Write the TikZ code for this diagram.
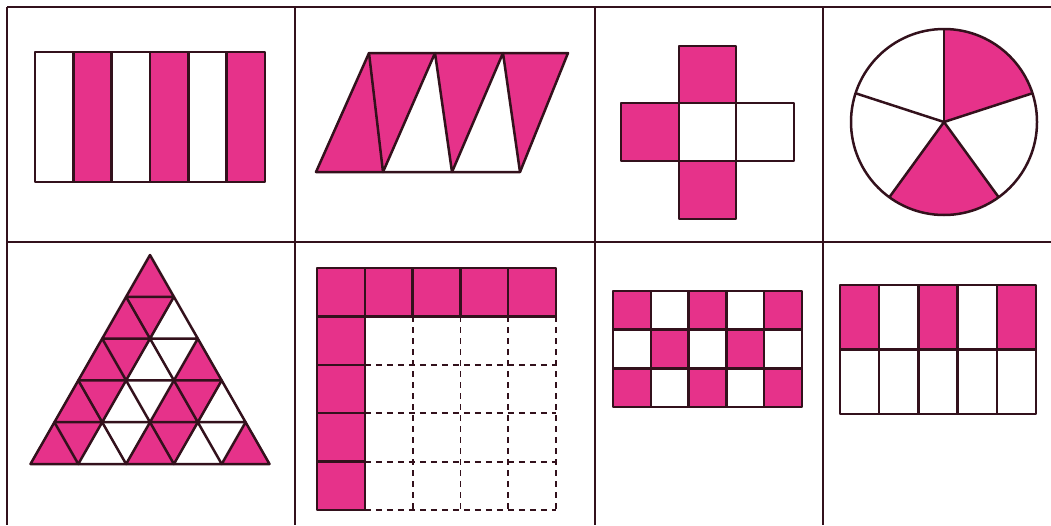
\documentclass[tikz,border=0pt]{standalone}
\usepackage{tikz}
\usepackage{xcolor}
\definecolor{Ink_Maroon}{HTML}{33111C}
\definecolor{Wash_Pink}{HTML}{E6328A}

\begin{document}
\begin{tikzpicture}[x=1pt, y=-1pt,
  border/.style={Ink_Maroon, line width=2.6pt},
  outline/.style={Ink_Maroon, line width=2.5pt, line join=round},
  wash/.style={fill=Wash_Pink},
  dashgrid/.style={Ink_Maroon, line width=1.8pt, dash pattern=on 6pt off 5pt}
]
  \useasboundingbox (0,0) rectangle (1051,525);

  % Frame of the eight panels
  \draw[border] (7,7) -- (1051,7);
  \draw[border] (7,242) -- (1051,242);
  \foreach \x in {7,295,595,823}
    \draw[border] (\x,7) -- (\x,525);

  % Panel 1: six stripes
  \foreach \i in {0,...,5} {
    \ifodd\i\relax
      \fill[wash] ({35+\i*38.33},52) rectangle ++(38.33,130);
    \fi
  }
  \foreach \i in {1,...,5}
    \draw[outline] ({35+\i*38.33},52) -- ++(0,130);
  \draw[outline] (35,52) rectangle (265,182);

  % Panel 2: parallelogram cut into triangles
  \coordinate (t0) at (369,53);
  \coordinate (t1) at (435,53);
  \coordinate (t2) at (503,53);
  \coordinate (t3) at (568,53);
  \coordinate (b0) at (316,172);
  \coordinate (b1) at (383,172);
  \coordinate (b2) at (452,172);
  \coordinate (b3) at (520,172);
  \fill[wash] (b0) -- (t0) -- (b1) -- cycle;
  \fill[wash] (t0) -- (t1) -- (b1) -- cycle;
  \fill[wash] (t1) -- (t2) -- (b2) -- cycle;
  \fill[wash] (t2) -- (t3) -- (b3) -- cycle;
  \draw[outline] (b0) -- (t0) -- (t3) -- (b3) -- cycle;
  \draw[outline] (t0) -- (b1) -- (t1) -- (b2) -- (t2) -- (b3);

  % Panel 3: cross of five squares
  \fill[wash] (679,46) rectangle (736,103);
  \fill[wash] (621,103) rectangle (679,161);
  \fill[wash] (679,161) rectangle (736,219);
  \draw[outline] (679,46) rectangle (736,103);
  \draw[outline] (621,103) rectangle (679,161);
  \draw[outline] (679,103) rectangle (736,161);
  \draw[outline] (736,103) rectangle (794,161);
  \draw[outline] (679,161) rectangle (736,219);

  % Panel 4: circle in five sectors
  \coordinate (pc) at (944,122);
  \fill[wash] (pc) -- ++(-18:93) arc[start angle=-18, end angle=-90, radius=93] -- cycle;
  \fill[wash] (pc) -- ++(126:93) arc[start angle=126, end angle=54, radius=93] -- cycle;
  \foreach \a in {-90,-18,54,126,198}
    \draw[outline] (pc) -- ++(\a:93);
  \draw[outline] (pc) circle[radius=93];

  % Panel 5: triangle of small triangles
  \begin{scope}[shift={(150,255)}, x=47.8pt, y=-41.8pt]
    \foreach \k in {0,...,4} {
      \foreach \j in {0,...,\k} {
        \ifodd\j\relax\else
          \fill[wash] ({-(\k+1)/2+\j},\k+1) -- ++(1,0) -- ({-\k/2+\j},\k) -- cycle;
        \fi
      }
    }
    \foreach \k [evaluate=\k as \km using int(\k-1)] in {1,...,4} {
      \foreach \j in {0,...,\km} {
        \ifodd\j\relax\else
          \fill[wash] ({-\k/2+\j},\k) -- ++(1,0) -- ({-(\k-1)/2+\j},\k+1) -- cycle;
        \fi
      }
    }
    \foreach \k in {0,...,4}
      \foreach \j in {0,...,\k}
        \draw[outline] ({-(\k+1)/2+\j},\k+1) -- ++(1,0) -- ({-\k/2+\j},\k) -- cycle;
  \end{scope}

  % Panel 6: 5x5 square, top row and left column shaded
  \begin{scope}[shift={(317,268)}, x=47.8pt, y=-48.4pt]
    \foreach \c in {2,...,5}
      \draw[dashgrid] (\c,1) -- (\c,5);
    \foreach \r in {2,...,5}
      \draw[dashgrid] (1,\r) -- (5,\r);
    \fill[wash] (0,0) rectangle (5,1);
    \fill[wash] (0,1) rectangle (1,5);
    \foreach \c in {0,...,4}
      \draw[outline] (\c,0) rectangle ++(1,1);
    \foreach \r in {1,...,4}
      \draw[outline] (0,\r) rectangle ++(1,1);
  \end{scope}

  % Panel 7: checkerboard 3x5
  \begin{scope}[shift={(613,291)}, x=37.8pt, y=-38.7pt]
    \foreach \r in {0,1,2}
      \foreach \c in {0,...,4} {
        \pgfmathtruncatemacro{\s}{mod(\r+\c,2)}
        \ifnum\s=0
          \fill[wash] (\c,\r) rectangle ++(1,1);
        \fi
        \draw[outline] (\c,\r) rectangle ++(1,1);
      }
  \end{scope}

  % Panel 8: 2x5 grid, alternate top cells shaded
  \begin{scope}[shift={(840,285)}, x=39.2pt, y=-64.5pt]
    \foreach \c in {0,2,4}
      \fill[wash] (\c,0) rectangle ++(1,1);
    \foreach \r in {0,1}
      \foreach \c in {0,...,4}
        \draw[outline] (\c,\r) rectangle ++(1,1);
  \end{scope}
\end{tikzpicture}
\end{document}
